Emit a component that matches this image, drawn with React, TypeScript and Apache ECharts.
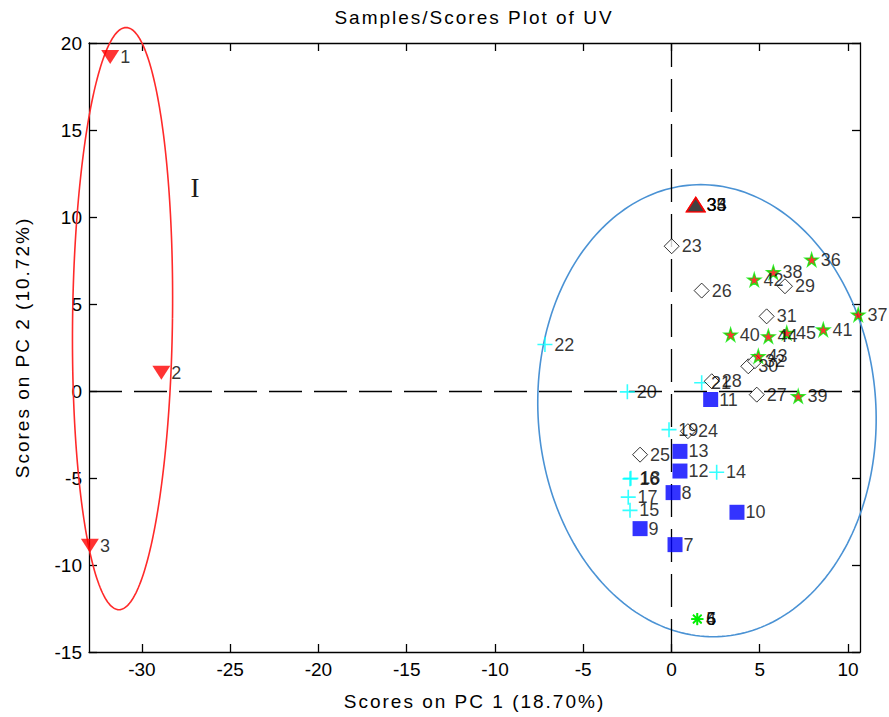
import React, { useEffect, useRef } from "react";
import * as echarts from "echarts";

// Texts
const TITLE = "Samples/Scores Plot of UV";
const X_NAME = "Scores on PC 1 (18.70%)";
const Y_NAME = "Scores on PC 2 (10.72%)";

// Axis extents and tick labels
const X_MIN = -33;
const X_MAX = 10.68;
const Y_MIN = -15;
const Y_MAX = 20;
const xTicks = [-30, -25, -20, -15, -10, -5, 0, 5, 10];
const yTicks = [-15, -10, -5, 0, 5, 10, 15, 20];

// Class 1 – red down-triangles
const redIds = ["1", "2", "3"];
const redPc1 = [-31.8, -28.9, -32.95];
const redPc2 = [19.2, 1.05, -8.9];

// Class 2 – green asterisks
const greenIds = ["4", "5", "6"];
const greenPc1 = [1.46, 1.47, 1.46];
const greenPc2 = [-13.1, -13.1, -13.12];

// Class 3 – blue squares
const blueIds = ["7", "8", "9", "10", "11", "12", "13"];
const bluePc1 = [0.2, 0.09, -1.78, 3.71, 2.22, 0.48, 0.48];
const bluePc2 = [-8.83, -5.84, -7.91, -6.97, -0.49, -4.6, -3.47];

// Class 4 – cyan plus signs
const cyanIds = ["14", "15", "16", "17", "18", "19", "20", "21", "22"];
const cyanPc1 = [2.56, -2.35, -2.35, -2.45, -2.3, -0.14, -2.5, 1.71, -7.17];
const cyanPc2 = [-4.67, -6.86, -5.05, -6.1, -5.02, -2.22, -0.05, 0.47, 2.67];

// Class 5 – open diamonds
const diamondIds = ["23", "24", "25", "26", "27", "28", "29", "30", "31", "32"];
const diamondPc1 = [0.01, 0.93, -1.78, 1.71, 4.83, 2.28, 6.43, 4.35, 5.39, 4.73];
const diamondPc2 = [8.32, -2.31, -3.66, 5.77, -0.21, 0.56, 6.02, 1.42, 4.29, 1.71];

// Class 6 – dark triangles
const darkIds = ["33", "34", "35"];
const darkPc1 = [1.37, 1.38, 1.37];
const darkPc2 = [10.71, 10.71, 10.7];

// Class 7 – pentagrams
const starIds = ["36", "37", "38", "39", "40", "41", "42", "43", "44", "45"];
const starPc1 = [7.94, 10.58, 5.77, 7.18, 3.35, 8.6, 4.69, 4.92, 5.49, 6.53];
const starPc2 = [7.55, 4.39, 6.82, -0.3, 3.24, 3.53, 6.4, 2.0, 3.14, 3.34];

// Confidence ellipses: centre, semi-axes, shear
const redEllipseCenter = [-31.1, 4.16];
const redEllipseRadii = [2.83, 16.73];
const redEllipseShear = 0.012;
const blueEllipseCenter = [2.01, -1.13];
const blueEllipseRadii = [9.58, 12.99];
const blueEllipseShear = -0.027;

const FONT = "Liberation Sans";
const FONT_SPACED = "Liberation Sans, sans-serif";

const starSymbol = (() => {
  const pts: string[] = [];
  for (let k = 0; k < 10; k++) {
    const r = k % 2 === 0 ? 10 : 3.82;
    const a = ((-90 + k * 36) * Math.PI) / 180;
    pts.push(`${(10 + r * Math.cos(a)).toFixed(2)},${(10 + r * Math.sin(a)).toFixed(2)}`);
  }
  return "path://M" + pts.join("L") + "Z";
})();
const plusSymbol = "path://M0,6L12,6M6,0L6,12";
const asteriskSymbol =
  "path://M6,0L6,12M0,6L12,6M1.76,1.76L10.24,10.24M10.24,1.76L1.76,10.24";

function pointSeries(
  name: string,
  ids: string[],
  pc1: number[],
  pc2: number[],
  symbol: string,
  size: number | number[],
  itemStyle: any,
  labelDistance: number,
  extra: any = {}
) {
  return {
    type: "scatter",
    name,
    symbol,
    symbolSize: size,
    itemStyle,
    clip: false,
    z: 3,
    silent: true,
    data: ids.map((id, i) => ({ name: id, value: [pc1[i], pc2[i]] })),
    label: {
      show: true,
      position: "right",
      distance: labelDistance,
      formatter: "{b}",
      color: "#000",
      fontFamily: FONT,
      fontSize: 18,
    },
    emphasis: { disabled: true },
    ...extra,
  };
}

// Ellipse outline drawn as a polyline in data space, not clipped by the grid
function ellipseSeries(center: number[], radii: number[], shear: number, color: string) {
  const pts: number[][] = [];
  const n = 240;
  for (let i = 0; i <= n; i++) {
    const t = (i / n) * Math.PI * 2;
    const dy = radii[1] * Math.sin(t);
    pts.push([center[0] + radii[0] * Math.cos(t) + shear * dy, center[1] + dy]);
  }
  return {
    type: "custom",
    silent: true,
    clip: false,
    z: 1,
    data: [center],
    renderItem: (_params: any, api: any) => ({
      type: "polyline",
      shape: { points: pts.map((p) => api.coord(p)) },
      style: { stroke: color, lineWidth: 1.6, fill: null },
    }),
  };
}

export default function App() {
  const ref = useRef<HTMLDivElement>(null);

  useEffect(() => {
    if (!ref.current) return;
    const chart = echarts.init(ref.current, undefined, { renderer: "svg" });
    const axisLine = { color: "#000", width: 1.3 };
    const tickLabel = { color: "#000", fontFamily: FONT, fontSize: 19 };

    chart.setOption({
      animation: false,
      backgroundColor: "#fff",
      grid: { left: 89, right: 29, top: 43, bottom: 65, containLabel: false },
      xAxis: [
        {
          type: "value",
          position: "bottom",
          min: X_MIN,
          max: X_MAX,
          axisLine: { onZero: false, lineStyle: axisLine },
          axisTick: { inside: true, length: 8, customValues: xTicks, lineStyle: axisLine },
          axisLabel: { ...tickLabel, customValues: xTicks, margin: 8 },
          splitLine: { show: false },
          name: X_NAME,
          nameLocation: "middle",
          nameGap: 40,
          nameTextStyle: { color: "#000", fontFamily: FONT_SPACED, fontSize: 19 },
        },
        {
          type: "value",
          position: "top",
          min: X_MIN,
          max: X_MAX,
          axisLine: { onZero: false, lineStyle: axisLine },
          axisTick: { inside: true, length: 8, customValues: xTicks, lineStyle: axisLine },
          axisLabel: { show: false },
          splitLine: { show: false },
        },
      ],
      yAxis: [
        {
          type: "value",
          position: "left",
          min: Y_MIN,
          max: Y_MAX,
          axisLine: { onZero: false, lineStyle: axisLine },
          axisTick: { inside: true, length: 8, customValues: yTicks, lineStyle: axisLine },
          axisLabel: { ...tickLabel, customValues: yTicks, margin: 7 },
          splitLine: { show: false },
          name: Y_NAME,
          nameLocation: "middle",
          nameGap: 57,
          nameTextStyle: { color: "#000", fontFamily: FONT_SPACED, fontSize: 19 },
        },
        {
          type: "value",
          position: "right",
          min: Y_MIN,
          max: Y_MAX,
          axisLine: { onZero: false, lineStyle: axisLine },
          axisTick: { inside: true, length: 8, customValues: yTicks, lineStyle: axisLine },
          axisLabel: { show: false },
          splitLine: { show: false },
        },
      ],
      graphic: [
        {
          type: "text",
          x: 474,
          y: 17,
          silent: true,
          style: {
            text: TITLE,
            fill: "#000",
            font: `19px ${FONT_SPACED}`,
            textAlign: "center",
            textVerticalAlign: "middle",
          },
        },
        {
          type: "text",
          x: 195,
          y: 188,
          silent: true,
          style: {
            text: "I",
            fill: "#1a1a1a",
            font: "27px Liberation Serif",
            textAlign: "center",
            textVerticalAlign: "middle",
            textShadowColor: "#2a9ee6",
            textShadowOffsetX: 1.5,
            textShadowBlur: 0,
          },
        },
      ],
      series: [
        ellipseSeries(redEllipseCenter, redEllipseRadii, redEllipseShear, "#ff2a2a"),
        ellipseSeries(blueEllipseCenter, blueEllipseRadii, blueEllipseShear, "#4a92d4"),
        {
          type: "scatter",
          data: [],
          silent: true,
          markLine: {
            silent: true,
            z: 2,
            symbol: ["none", "none"],
            label: { show: false },
            emphasis: { disabled: true },
            lineStyle: { color: "#000", width: 1.3, type: [33, 12] },
            data: [{ xAxis: 0 }, { yAxis: 0 }],
          },
        },
        pointSeries("class1", redIds, redPc1, redPc2, "triangle", [18, 14],
          { color: "#ff0000" }, 1, { symbolRotate: 180 }),
        pointSeries("class2", greenIds, greenPc1, greenPc2, asteriskSymbol, 12,
          { color: "transparent", borderColor: "#00ee00", borderWidth: 1.6 }, 2),
        pointSeries("class3", blueIds, bluePc1, bluePc2, "rect", 15,
          { color: "#0000ff" }, 1),
        pointSeries("class4", cyanIds, cyanPc1, cyanPc2, plusSymbol, 15,
          { color: "transparent", borderColor: "#00ffff", borderWidth: 1.6 }, 1),
        pointSeries("class5", diamondIds, diamondPc1, diamondPc2, "diamond", 15,
          { color: "#ffffff", borderColor: "#000", borderWidth: 1 }, 2),
        pointSeries("class6", darkIds, darkPc1, darkPc2, "triangle", [18, 14],
          { color: "#404040", borderColor: "#ff0000", borderWidth: 1.5 }, 1),
        pointSeries("class7", starIds, starPc1, starPc2, starSymbol, 13,
          { color: "#ff0000", borderColor: "#00ee00", borderWidth: 1.4 }, 2),
      ],
    });

    return () => chart.dispose();
  }, []);

  return (
    <>
      <style>{`.uv-scores text[style*="sans-serif"]{letter-spacing:2px}`}</style>
      <div
        ref={ref}
        className="uv-scores"
        style={{ position: "fixed", left: 0, top: 0, width: 889, height: 717, background: "#fff" }}
      />
    </>
  );
}
